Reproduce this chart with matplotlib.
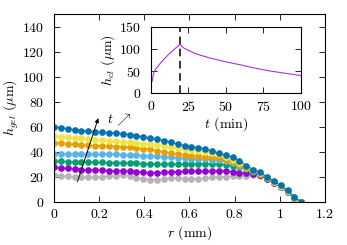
import numpy as np
import matplotlib
matplotlib.use("Agg")
import matplotlib.pyplot as plt

plt.rcParams['font.family'] = ['cmr10', 'DejaVu Serif']
plt.rcParams['mathtext.fontset'] = 'cm'
plt.rcParams['axes.formatter.use_mathtext'] = True
plt.rcParams['font.size'] = 10

# radial positions (mm)
r = np.linspace(0, 1.095, 37)

# gel height profiles (um), earliest to latest
h_gray = [21.5, 21.0, 20.5, 20.2, 20.0, 19.9, 19.8, 20.0, 20.5, 21.0, 21.3, 20.8, 19.5, 18.4, 17.9, 17.8, 18.2, 18.8, 19.0,
          18.5, 18.0, 18.4, 19.0, 19.6, 20.0, 20.3, 20.5, 20.6, 21.0, 21.6, 21.0, 18.3, 15.3, 11.9, 7.9, 3.0, 0.0]
h_purple = [27.6, 27.2, 26.8, 26.3, 25.9, 25.6, 25.5, 25.3, 25.0, 24.8, 24.8, 24.6, 24.2, 23.7, 23.4, 23.4, 23.6, 24.0, 24.3,
            24.4, 24.4, 24.4, 24.5, 24.7, 24.9, 24.8, 24.2, 23.4, 23.0, 22.7, 21.5, 18.5, 15.4, 12.0, 8.0, 3.1, 0.0]
h_green = [32.5, 32.4, 32.2, 32.0, 31.9, 31.8, 31.7, 31.6, 31.5, 31.5, 31.4, 31.2, 31.0, 30.7, 30.5, 30.3, 30.2, 30.2, 30.1,
           30.1, 30.2, 30.4, 30.6, 30.6, 30.3, 29.8, 29.0, 28.0, 26.3, 24.2, 22.0, 18.8, 15.6, 12.1, 8.1, 3.2, 0.0]
h_lblue = [38.7, 38.6, 38.5, 38.4, 38.3, 38.2, 38.1, 38.1, 38.1, 38.0, 37.8, 37.5, 37.2, 37.0, 36.8, 36.5, 36.2, 35.8, 35.3,
           34.9, 34.5, 34.3, 34.1, 33.8, 33.3, 32.5, 31.0, 29.0, 26.8, 24.6, 22.3, 19.0, 15.8, 12.3, 8.3, 3.3, 0.0]
h_orange = [47.2, 46.8, 46.5, 46.0, 45.6, 45.2, 45.0, 44.8, 44.5, 44.3, 44.0, 43.6, 43.2, 42.6, 42.0, 41.0, 40.0, 39.0, 38.0,
            37.2, 36.8, 36.5, 36.2, 35.8, 35.0, 33.8, 32.0, 29.6, 27.2, 25.0, 22.6, 19.3, 16.0, 12.5, 8.5, 3.4, 0.0]
h_yellow = [52.5, 52.2, 51.8, 51.3, 50.8, 50.3, 49.8, 49.4, 49.0, 48.4, 48.0, 47.6, 47.2, 46.6, 46.0, 45.4, 44.8, 44.0, 43.0,
            42.0, 41.4, 40.8, 40.2, 39.4, 38.0, 36.0, 33.8, 31.0, 28.0, 25.3, 23.0, 19.6, 16.3, 12.8, 8.8, 3.6, 0.0]
h_dblue = [60.0, 59.4, 58.6, 57.8, 57.0, 56.5, 56.0, 55.6, 55.3, 55.0, 54.5, 53.8, 53.0, 52.0, 51.0, 50.0, 49.0, 47.8, 46.2,
           45.1, 44.3, 43.5, 42.4, 40.6, 39.0, 37.6, 35.7, 33.0, 29.0, 25.9, 23.6, 20.0, 16.7, 13.2, 9.2, 4.0, 0.0]

profiles = [h_gray, h_purple, h_green, h_lblue, h_orange, h_yellow, h_dblue]
colors = ["#b4b4b4", "#9400d3", "#009e73", "#56b4e9", "#e69f00", "#f0e442", "#0072b2"]

# inset: clot height vs time
t_cl = [1, 1.5, 2, 3, 4, 6, 8, 10, 12, 14, 16, 18, 19.5, 20.5, 22, 25, 30, 35, 40, 45, 50, 55, 60, 65, 70, 75, 80,
        85, 90, 95, 100]
h_cl = [27, 38, 46, 53, 58, 66, 74, 81, 88, 94, 100, 106, 111, 106, 102, 97, 89, 84, 79, 75, 71, 67.5, 64, 60, 56.5,
        53, 50, 47.5, 45, 42.5, 40]
t_stop = 19.5

fig = plt.figure(figsize=(3.47, 2.45), dpi=100)
ax = fig.add_axes([0.1556, 0.1755, 0.781, 0.767])

for h, c in zip(profiles, colors):
    ax.plot(r, h, color=c, lw=0.8, marker="o", ms=3.8, mec=c, mfc=c)

ax.set_xlim(0, 1.2)
ax.set_ylim(0, 150)
ax.set_xticks(np.arange(0, 1.21, 0.2))
ax.set_xticklabels(["0", "0.2", "0.4", "0.6", "0.8", "1", "1.2"])
ax.set_yticks(np.arange(0, 141, 20))
ax.tick_params(direction="in", top=True, right=True, length=4, width=0.6)
ax.tick_params(axis="y", pad=7)
ax.tick_params(axis="x", pad=5)
ax.set_xlabel(r"$r$ (mm)", labelpad=2)
ax.set_ylabel(r"$h_{gel}$ ($\mu$m)", labelpad=1)

ax.annotate("", xy=(0.2, 69), xytext=(0.1, 14),
            arrowprops=dict(arrowstyle="-|>", color="black", lw=0.7, mutation_scale=6))
ax.text(0.235, 66, r"$t\,\nearrow$", fontsize=10, va="center", ha="left")

ins = fig.add_axes([0.4343, 0.619, 0.433, 0.272])
ins.plot(t_cl, h_cl, color="#a633e0", lw=0.8)
ins.axvline(t_stop, color="black", lw=1.1, ls=(0, (5, 3)))
ins.set_xlim(0, 100)
ins.set_ylim(0, 150)
ins.set_xticks([0, 25, 50, 75, 100])
ins.set_yticks([0, 50, 100, 150])
ins.tick_params(direction="in", top=True, right=True, length=4, width=0.6)
ins.tick_params(axis="y", pad=7)
ins.tick_params(axis="x", pad=5)
ins.set_xlabel(r"$t$ (min)", labelpad=1)
ins.set_ylabel(r"$h_{cl}$ ($\mu$m)", labelpad=1)

fig.savefig("out.png", dpi=100)
